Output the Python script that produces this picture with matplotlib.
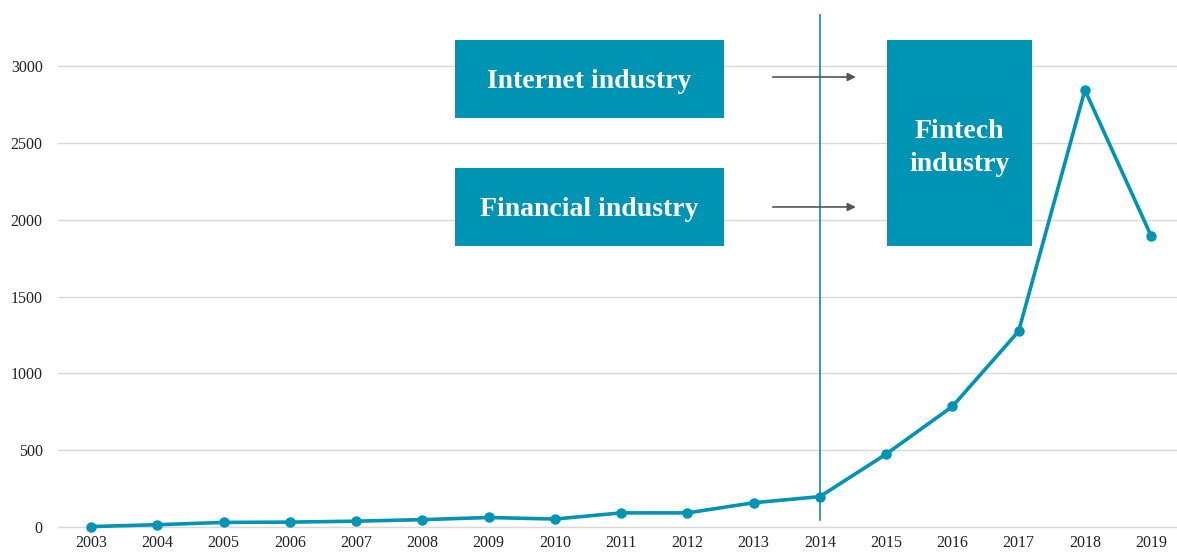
import matplotlib.pyplot as plt
from matplotlib.patches import Rectangle

years = ['2003', '2004', '2005', '2006', '2007', '2008', '2009', '2010', '2011',
         '2012', '2013', '2014', '2015', '2016', '2017', '2018', '2019']
counts = [3, 15, 30, 32, 38, 48, 62, 52, 92, 92, 158, 198, 475, 785, 1275, 2845, 1895]
box_labels = ['Internet industry', 'Financial industry', 'Fintech\nindustry']

teal = '#0094b4'
plt.rcParams['font.family'] = ['Liberation Serif', 'DejaVu Serif']

fig = plt.figure(figsize=(11.77, 5.54), dpi=100)
ax = fig.add_axes([0.0493, 0.0487, 0.9507, 0.926])

x = range(len(years))
ax.plot(x, counts, color=teal, lw=2.6, marker='o', ms=6.5, zorder=3, clip_on=False)
ax.axvline(11, ymin=45 / 3340, ymax=1, color='#1188aa', lw=1.2, zorder=4)
ax.axhline(0, color='#d9d9d9', lw=1, clip_on=False, zorder=0)

ax.set_xlim(-0.5, 16.39)
ax.set_ylim(0, 3340)
ax.set_yticks([0, 500, 1000, 1500, 2000, 2500, 3000])
ax.set_xticks(list(x))
ax.set_xticklabels(years)
ax.grid(axis='y', color='#d9d9d9', lw=1)
ax.set_axisbelow(True)
for s in ax.spines.values():
    s.set_visible(False)
ax.tick_params(length=0, labelsize=11.5, colors='#222222')
ax.tick_params(axis='x', pad=6)
ax.tick_params(axis='y', pad=11)

# boxes in figure fractions
boxes = [(0.3866, 0.787, 0.2285, 0.1408),
         (0.3866, 0.556, 0.2285, 0.1408),
         (0.7536, 0.556, 0.1232, 0.3718)]
shifts = [-0.005, -0.005, -0.009]
for (bx, by, bw, bh), lab, dy in zip(boxes, box_labels, shifts):
    fig.patches.append(Rectangle((bx, by), bw, bh, transform=fig.transFigure,
                                 facecolor=teal, edgecolor='none', zorder=5))
    fig.text(bx + bw / 2, by + bh / 2 + dy, lab, color='white', fontsize=20,
             fontweight='bold', ha='center', va='center', zorder=6,
             linespacing=1.45)

for yy in [0.861, 0.6264]:
    fig.add_artist(plt.Annotation('', xy=(0.7295, yy), xytext=(0.6542, yy),
                                  xycoords='figure fraction',
                                  arrowprops=dict(arrowstyle='-|>', color='#555555',
                                                  lw=1.2, mutation_scale=12)))

fig.savefig('out.png', dpi=100)
